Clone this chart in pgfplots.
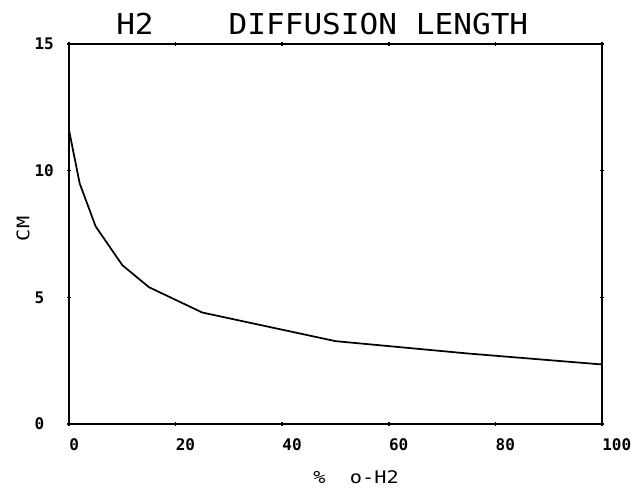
\documentclass[border=0pt]{standalone}
\usepackage{pgfplots}
\pgfplotsset{compat=1.18}
\usepackage{fontspec}
\usepackage{graphicx}
\newfontfamily\plotfont{DejaVu Sans Mono}
\begin{document}
\begin{tikzpicture}
\begin{axis}[
  at={(0,0)}, anchor=south west,
  scale only axis, width=399.75pt, height=285pt,
  xmin=0, xmax=100, ymin=0, ymax=15,
  xtick={0,20,40,60,80,100}, ytick={0,5,10,15},
  tick align=center, major tick length=3pt,
  axis line style={line width=1.1pt},
  every tick/.append style={line width=1.1pt, black},
  /pgf/number format/assume math mode=true,
  ticklabel style={font=\plotfont\bfseries\fontsize{12}{12}\selectfont, inner sep=0pt},
  xticklabel style={anchor=north west, yshift=-9pt},
  yticklabel style={anchor=west, xshift=-24.5pt},
  clip=false,
]
\addplot[black, line width=1.3pt] coordinates {
  (0,11.6) (2,9.5) (5,7.8) (10,6.27) (15,5.4) (25,4.4) (50,3.27) (75,2.78) (100,2.35)
};
\end{axis}
\begin{scope}[x=0.75pt,y=0.75pt]
\node[anchor=base west, inner sep=0pt] at (47,389)
  {\plotfont\fontsize{21.6}{22}\selectfont\scalebox{1.08}[1]{H2\ \ \ \ DIFFUSION LENGTH}};
\node[anchor=base west, inner sep=0pt] at (244,-60)
  {\plotfont\fontsize{13}{13}\selectfont\scalebox{1.17}[1]{\%\ \ o-H2}};
\node[anchor=center, inner sep=0pt, rotate=90] at (-46,195)
  {\plotfont\fontsize{13}{13}\selectfont\scalebox{1.17}[1]{CM}};
\end{scope}
\pgfresetboundingbox
\path[use as bounding box] (-51.75pt,-48pt) rectangle (430.5pt,318pt);
\end{tikzpicture}
\end{document}
